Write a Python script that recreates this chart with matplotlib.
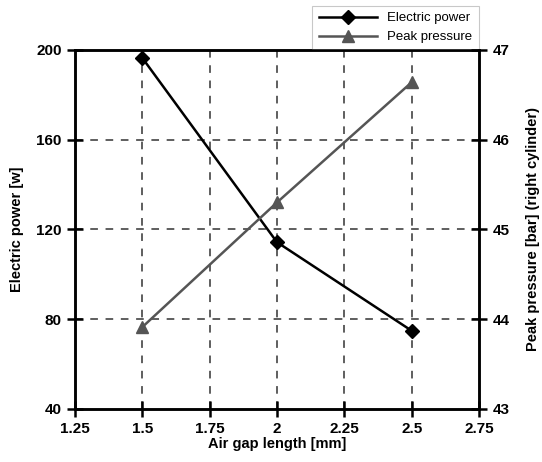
import matplotlib
matplotlib.use("Agg")
import matplotlib.pyplot as plt

# values
gap = [1.5, 2.0, 2.5]
power = [196.5, 114.3, 74.8]
pressure = [43.91, 45.3, 46.64]

x_ticks = [1.25, 1.5, 1.75, 2, 2.25, 2.5, 2.75]
x_labels = ["1.25", "1.5", "1.75", "2", "2.25", "2.5", "2.75"]
power_ticks = [40, 80, 120, 160, 200]
pressure_ticks = [43, 44, 45, 46, 47]

plt.rcParams['font.family'] = ['Liberation Sans', 'DejaVu Sans']

fig = plt.figure(figsize=(5.42, 4.62), dpi=100)
ax = fig.add_axes([0.138, 0.115, 0.746, 0.777])
ax2 = ax.twinx()

l1, = ax.plot(gap, power, color='black', lw=1.8, marker='D', ms=7, label='Electric power')
l2, = ax2.plot(gap, pressure, color='#555555', lw=1.8, marker='^', ms=8, label='Peak pressure')

ax.set_xlim(1.25, 2.75)
ax.set_ylim(40, 200)
ax2.set_ylim(43, 47)
ax.set_xticks(x_ticks)
ax.set_xticklabels(x_labels)
ax.set_yticks(power_ticks)
ax2.set_yticks(pressure_ticks)

# dashed grid on inner ticks only
for xv in x_ticks[1:-1]:
    ax.axvline(xv, color='#333333', lw=1.1, ls=(0, (5, 5)), zorder=0)
for yv in power_ticks[1:-1]:
    ax.axhline(yv, color='#333333', lw=1.1, ls=(0, (5, 5)), zorder=0)

for a in (ax, ax2):
    for s in a.spines.values():
        s.set_linewidth(1.8)
    a.tick_params(direction='inout', length=11, width=1.8, labelsize=11, pad=4)
    for lab in a.get_xticklabels() + a.get_yticklabels():
        lab.set_fontweight('bold')

ax.set_xlabel('Air gap length [mm]', fontsize=10.5, fontweight='bold', labelpad=1)
ax.set_ylabel('Electric power [w]', fontsize=10.5, fontweight='bold', labelpad=9)
ax2.set_ylabel('Peak pressure [bar] (right cylinder)', fontsize=10.5, fontweight='bold', labelpad=12)

leg = ax.legend([l1, l2], ['Electric power', 'Peak pressure'], loc='lower right',
                bbox_to_anchor=(1.0, 1.0), borderaxespad=0, fancybox=False,
                fontsize=9.5, handlelength=4.4, frameon=True, borderpad=0.5)
leg.get_frame().set_edgecolor('#bbbbbb')
leg.get_frame().set_linewidth(0.8)

fig.savefig('out.png', dpi=100)
